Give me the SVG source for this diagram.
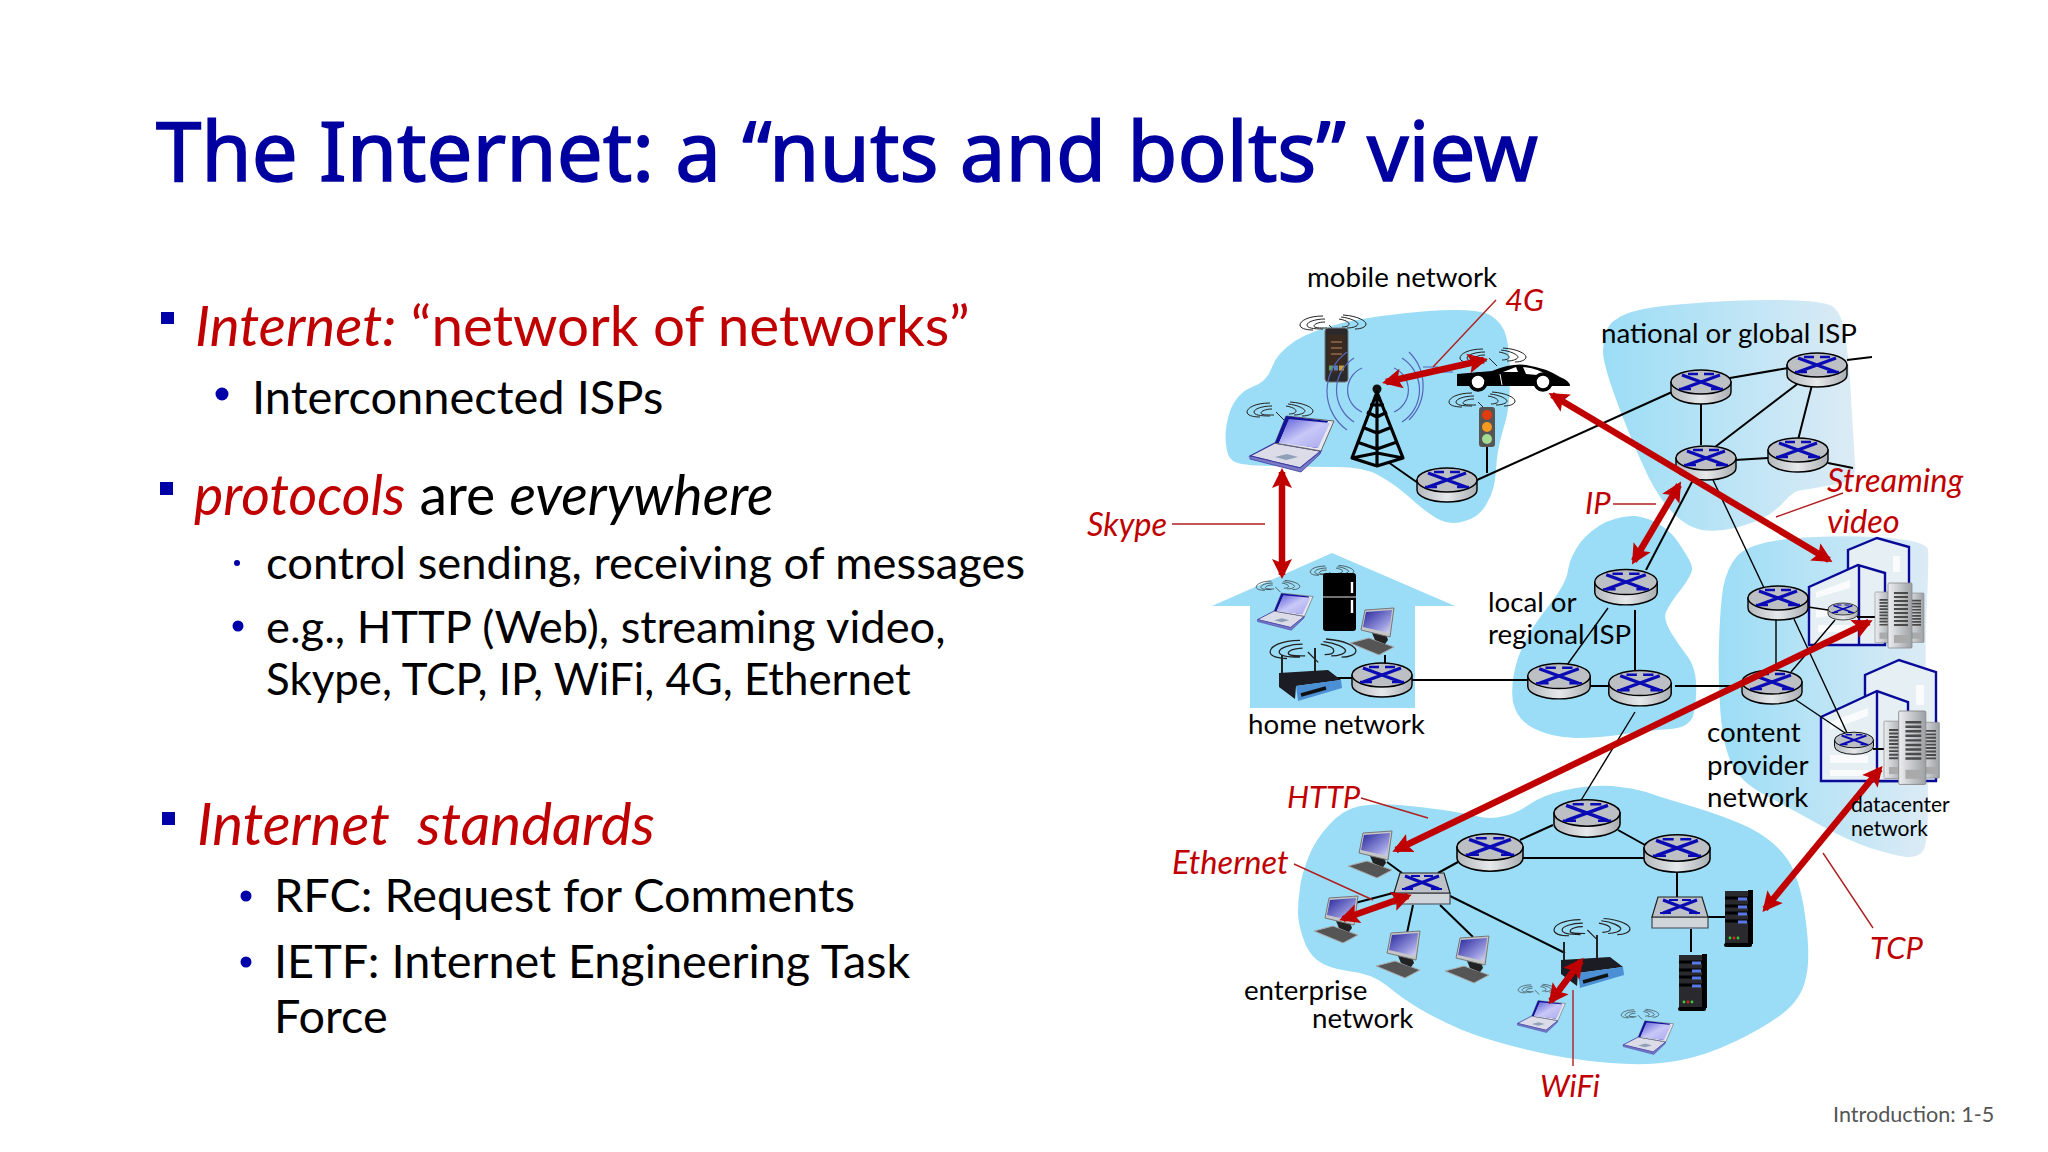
<svg xmlns="http://www.w3.org/2000/svg" width="2048" height="1152" viewBox="0 0 2048 1152">
<style>
text{font-family:"Lato","Carlito","Noto Sans",sans-serif;fill:#000}
.title{font-family:"Noto Sans","Open Sans",sans-serif;font-size:81.6px;fill:#0000a0;stroke:#0000a0;stroke-width:1.5}
.red{fill:#c00000}.it{font-style:italic}
.lab{font-size:27.7px}.pro{font-size:32.6px;fill:#c00000;font-style:italic}.pro2{font-size:31px;fill:#c00000;font-style:italic}
.blob{fill:#9bddf6}
.link{stroke:#000;stroke-width:2;fill:none}
.thin{stroke:#000;stroke-width:1.4;fill:none}
.lead{stroke:#b02020;stroke-width:1.4;fill:none}
.arw{stroke:#c00000;stroke-width:6.5;fill:none;marker-start:url(#head);marker-end:url(#head)}
.wv{fill:none;stroke:#222;stroke-width:1}
.dc{fill:#e6eff4;stroke:#0a0a99;stroke-width:2.4}
.win{fill:#fff;opacity:.75}
.bul{fill:#0000a8}
</style>
<defs>
<linearGradient id="fade" gradientUnits="objectBoundingBox" x1="0" x2="1" y1="0" y2="0"><stop offset="0" stop-color="#9bddf6"/><stop offset="1" stop-color="#dcebf5"/></linearGradient>
<linearGradient id="metal" x1="0" x2="1" y1="0" y2="0"><stop offset="0" stop-color="#b4b9bd"/><stop offset=".5" stop-color="#e6e9ea"/><stop offset="1" stop-color="#a9aeb2"/></linearGradient>
<linearGradient id="scr" x1="0" x2="1" y1="0" y2="1"><stop offset="0" stop-color="#25259c"/><stop offset=".7" stop-color="#9a9ae0"/><stop offset="1" stop-color="#dcdcf5"/></linearGradient>
<linearGradient id="lap" x1="0" x2="1" y1="0" y2="1"><stop offset="0" stop-color="#5a5ad8"/><stop offset=".5" stop-color="#c8c8f8"/><stop offset="1" stop-color="#a8a8ee"/></linearGradient>
<linearGradient id="tow" x1="0" x2="1" y1="0" y2="0"><stop offset="0" stop-color="#eceef0"/><stop offset="1" stop-color="#9ca0a4"/></linearGradient>
<marker id="head" markerUnits="userSpaceOnUse" viewBox="0 -11 24 22" markerWidth="24" markerHeight="22" refX="16" refY="0" orient="auto-start-reverse"><path d="M0,-10 L20,0 L0,10 L4,0 Z" fill="#c00000"/></marker>
<g id="router"><path d="M-30,0 V10 A30,12 0 0 0 30,10 V0 Z" fill="url(#metal)" stroke="#000" stroke-width="1.4"/><ellipse cx="0" cy="0" rx="30" ry="12" fill="#bcc0c4" stroke="#000" stroke-width="1.4"/><path d="M-19,-7 L19,7 M19,-7 L-19,7" stroke="#0b0bb5" stroke-width="3.2" fill="none"/><path d="M-13,-8 H-3 M3,-8 H13 M-22,7 H-10 M10,7 H22" stroke="#0b0bb5" stroke-width="2.4" fill="none"/></g>
<g id="switch"><path d="M-28,20 H28 V31 H-28 Z" fill="#cfd5d9" stroke="#445" stroke-width="1.2"/><path d="M-22,0 H22 L28,20 H-28 Z" fill="#bcc2c8" stroke="#222" stroke-width="1.2"/><path d="M-17,3 L17,16 M17,3 L-17,16" stroke="#0b0bb5" stroke-width="3" fill="none"/><path d="M-11,3 H-2 M2,3 H11 M-20,16 H-9 M9,16 H20" stroke="#0b0bb5" stroke-width="2.2" fill="none"/></g>
<g id="waves" class="wv"><path d="M-10,-9 C-25,-9 -33,-4 -33,0 C-33,3 -28,5 -20,5 M-8,-6 C-18,-6 -26,-3 -26,0 C-26,3 -20,4 -10,4 M-8,-3 C-14,-3 -19,-1 -19,1 C-19,3 -14,3 -6,3"/><path d="M10,-10 C25,-9 33,-4 33,-1 C33,2 28,4 22,4 M8,-8 C18,-7 25,-3 25,-1 C25,1 20,3 14,3 M6,-6 C12,-5 16,-3 16,-1 C16,1 13,2 9,2"/><path d="M-4,0 L4,8"/></g>
<g id="laptop"><path d="M-43,13 L-18,0 L28,8 L7,25 Z" fill="#dcdce8" stroke="#3a3aa0" stroke-width="1.3"/><path d="M-43,13 L7,25 L28,8 L27,11 L8,29 L-43,16 Z" fill="#7a7ac8" stroke="#3a3aa0" stroke-width=".8"/><path d="M-18,0 L-7,-27 L41,-22 L28,8 Z" fill="#e8e8f0" stroke="#666" stroke-width="1"/><path d="M-18,0 L-7,-27 L35,-22 L24,5 L-11,-1 L-1,-23 L-4,-23 L-14,0 Z" fill="#14149a"/><path d="M-14,0 L-4,-24 L37,-20 L25,5 Z" fill="url(#lap)"/><path d="M-18,14 L-6,11 L5,14 L-7,17 Z" fill="#8fa0b8"/></g>
<g id="desktop"><path d="M-22,13 L-3,8 L22,17 L7,25 Z" fill="#555" stroke="#aaa" stroke-width="1"/><path d="M0,3 L3,10 L13,14 L16,10 L14,4 Z" fill="#222"/><path d="M-7,-20 L22,-22 L18,7 L-11,0 Z" fill="#c4c6c8" stroke="#777" stroke-width="1"/><path d="M-6,-18 L20,-20 L17,3 L-9,-3 Z" fill="url(#scr)"/></g>
<g id="wifirouter"><path d="M-28,-25 V-3 M5,-32 V-6" stroke="#222" stroke-width="2" fill="none"/><path d="M-31,-7 L18,-10 L31,0 L-14,6 L-15,19 L-31,7 Z" fill="#1c1c24"/><path d="M-14,6 L31,0 L32,8 L-12,21 Z" fill="#4b8fd4"/><path d="M-9,15 L16,8" stroke="#111" stroke-width="3.5"/></g>
<g id="server"><rect x="0" y="0" width="27" height="55" fill="#2a2a2e"/><rect x="-1" y="52" width="28" height="4" rx="2" fill="#000"/><rect x="23" y="-1" width="5" height="54" fill="#000"/><path d="M0,7 H24 M0,15 H24 M0,22 H24 M0,30 H24" stroke="#000" stroke-width="3"/><path d="M13,8 H22 M13,16 H22 M13,23 H22 M13,31 H22" stroke="#5a78e8" stroke-width="3"/><circle cx="5" cy="47" r="1.4" fill="#3c3"/><circle cx="9" cy="47" r="1.4" fill="#d22"/><circle cx="13" cy="47" r="1.4" fill="#3c3"/></g>
<g id="tower1"><rect width="24" height="65" rx="1" fill="url(#tow)" stroke="#888" stroke-width=".8"/><path d="M6,10 H20 M6,14 H20 M6,18 H20 M6,22 H20 M6,26 H20 M6,30 H20 M6,34 H20 M6,38 H20 M6,42 H20" stroke="#4a4a4a" stroke-width="2.2"/><rect x="6" y="52" width="14" height="8" fill="#aaa"/></g>
<g id="cluster"><use href="#tower1" transform="translate(0,9) scale(.75,.78)"/><use href="#tower1" transform="translate(31,10) scale(.75,.76)"/><use href="#tower1" transform="translate(13,0)"/></g>
</defs>

<rect width="2048" height="1152" fill="#fff"/>

<g id="clouds">
<path class="blob" d="M1226,444 Q1224,430 1230,411 Q1237,393 1252,387 Q1267,382 1272,367 Q1277,353 1295,341 Q1313,330 1346,322 Q1380,315 1428,311 Q1477,308 1490,315 Q1503,323 1506,336 Q1510,350 1510,380 Q1510,410 1503,430 Q1497,450 1496,470 Q1495,490 1487,503 Q1480,517 1465,521 Q1450,526 1436,518 Q1423,510 1408,496 Q1393,483 1378,475 Q1363,467 1338,467 Q1313,467 1276,466 Q1240,466 1233,461 Q1227,457 1226,444 Z"/>
<path fill="url(#fade)" d="M1603,352 Q1603,343 1606,332 Q1610,320 1626,314 Q1643,307 1685,304 Q1727,300 1774,300 Q1820,300 1832,306 Q1843,313 1846,341 Q1850,370 1852,415 Q1855,460 1855,470 Q1855,480 1838,484 Q1820,487 1810,489 Q1800,490 1795,492 Q1790,495 1782,504 Q1773,513 1763,518 Q1753,523 1735,528 Q1717,532 1702,530 Q1687,527 1674,514 Q1660,500 1648,476 Q1637,453 1627,428 Q1617,403 1610,382 Q1603,360 1603,352 Z"/>
<path class="blob" d="M1636,516 Q1623,515 1606,522 Q1590,530 1580,543 Q1570,557 1568,570 Q1567,583 1547,608 Q1527,633 1518,658 Q1510,683 1513,702 Q1517,720 1533,728 Q1550,737 1575,738 Q1600,738 1625,734 Q1650,730 1671,729 Q1692,727 1694,712 Q1697,697 1696,682 Q1695,667 1688,657 Q1680,647 1672,634 Q1663,620 1666,612 Q1670,603 1682,588 Q1693,573 1692,568 Q1692,563 1682,548 Q1673,533 1662,526 Q1650,518 1636,516 Z"/>
<path fill="url(#fade)" d="M1723,588 Q1727,567 1738,555 Q1750,543 1788,539 Q1827,535 1877,537 Q1927,540 1928,550 Q1929,560 1927,600 Q1925,640 1926,700 Q1928,760 1928,800 Q1928,840 1924,849 Q1920,858 1906,857 Q1893,855 1870,848 Q1847,840 1820,825 Q1793,810 1765,795 Q1737,780 1730,760 Q1722,740 1720,706 Q1718,673 1719,642 Q1720,610 1723,588 Z"/>
<path class="blob" d="M1298,912 Q1298,900 1300,888 Q1301,877 1308,858 Q1315,840 1329,825 Q1343,809 1360,806 Q1377,803 1400,805 Q1423,807 1443,810 Q1463,813 1476,816 Q1490,820 1504,816 Q1517,813 1530,804 Q1543,795 1566,790 Q1590,785 1612,786 Q1633,788 1646,792 Q1660,797 1694,807 Q1727,817 1750,828 Q1773,840 1785,856 Q1799,873 1805,915 Q1811,957 1806,977 Q1802,999 1782,1014 Q1762,1029 1734,1042 Q1705,1056 1676,1061 Q1650,1066 1610,1063 Q1570,1060 1528,1050 Q1487,1040 1462,1030 Q1437,1019 1420,1009 Q1403,999 1386,985 Q1370,973 1348,971 Q1327,968 1317,960 Q1308,953 1303,938 Q1298,923 1298,912 Z"/>
<path class="blob" d="M1212,606 L1332,553 L1455,606 H1415 V708 H1250 V606 Z"/>
</g>

<g id="dc-buildings">
<path class="dc" d="M1848,570 V550 L1877,538 L1909,547 V600 H1848 Z"/>
<path class="dc" d="M1809,645 V587 L1858,565 L1885,573 V645 Z"/>
<path class="dc" fill="none" d="M1859,566 V645"/>
<path class="win" d="M1816,592 L1850,580 V588 L1816,598 Z M1818,625 H1850 V632 H1818 Z M1816,610 L1850,604 V612 L1816,618 Z M1893,556 H1900 V572 H1893 Z"/>
<path class="dc" d="M1865,693 V675 L1899,660 L1936,672 V781 H1865 Z"/>
<path class="dc" d="M1821,781 V717 L1877,691 L1908,702 V781 Z"/>
<path class="dc" fill="none" d="M1877,692 V781"/>
<path class="win" d="M1830,722 L1868,708 V716 L1830,730 Z M1830,755 H1868 V763 H1830 Z M1830,770 H1868 V776 H1830 Z M1916,685 H1924 V705 H1916 Z"/>
</g>

<g id="connectors">
<path class="link" d="M1477,480 L1672,392 M1730,378 L1788,368 M1701,400 V445 M1800,382 L1715,447 M1812,385 L1798,440 M1735,460 L1768,458 M1847,360 L1872,357 M1828,463 L1853,468"/>
<path class="link" d="M1388,462 L1418,483 M1487,447 V473"/>
<path class="link" d="M1693,480 L1646,570"/>
<path class="thin" d="M1713,480 L1765,590"/>
<path class="link" d="M1337,678 H1352 M1385,655 V666 M1412,680 H1528 M1590,686 H1613 M1635,610 V672 M1675,686 H1743"/>
<path class="thin" d="M1567,665 L1608,608 M1776,620 V673 M1791,672 L1835,620 M1808,607 L1828,610 M1794,619 L1848,735 M1796,700 L1848,735"/>
<path class="link" d="M1857,617 H1877 M1873,749 H1884"/>
<path class="link" d="M1387,862 L1402,873 M1355,903 L1397,892 M1413,905 L1407,933 M1440,905 L1473,937 M1448,895 L1565,953 M1438,873 L1458,862 M1520,840 L1553,825 M1523,858 H1647 M1618,830 L1645,845 M1677,873 V897 M1707,917 H1725 M1691,929 V952"/>
<path class="thin" d="M1580,802 L1635,712"/>
</g>

<g id="mobile-devices">
<g id="phone"><use href="#waves" transform="translate(1333,325)"/><rect x="1325" y="328" width="23" height="54" rx="3" fill="#2a2a2c" stroke="#777" stroke-width="1"/><rect x="1328" y="335" width="17" height="38" fill="#3a2a20"/><path d="M1331,342 H1342 M1331,348 H1342 M1331,354 H1342" stroke="#7a5a40" stroke-width="2"/><path d="M1329,368 H1333" stroke="#5aa06a" stroke-width="5"/><path d="M1334,368 H1338" stroke="#5a80c0" stroke-width="5"/><path d="M1339,368 H1344" stroke="#c0a040" stroke-width="5"/></g>
<g id="tower"><path d="M1362,368 A24,24 0 0 0 1362,412 M1354,358 A38,38 0 0 0 1354,422 M1347,352 A48,48 0 0 0 1347,430 M1394,368 A24,24 0 0 1 1394,412 M1402,358 A38,38 0 0 1 1402,422 M1409,352 A48,48 0 0 1 1409,420" stroke="#5566bb" stroke-width="1.2" fill="none"/><path d="M1423,367 H1438 M1440,372 H1453" stroke="#5566bb" stroke-width="1.2"/><circle cx="1377" cy="389" r="4.5" fill="#111"/><path d="M1377,392 L1352,458 L1377,466 L1403,458 Z M1377,392 V466 M1352,458 L1377,453 L1403,458 M1357,442 L1377,449 L1397,442 M1362,427 L1377,433 L1392,427 M1367,412 L1377,417 L1387,412 M1370,405 H1384" stroke="#000" stroke-width="3.2" fill="none" stroke-linejoin="round"/></g>
<g id="laptop-mobile"><use href="#waves" transform="translate(1280,412)"/><use href="#laptop" transform="translate(1293,443)"/></g>
<g id="car"><use href="#waves" transform="translate(1493,358)"/><path d="M1457,374 L1492,371 Q1512,363 1526,365 Q1546,368 1560,377 Q1570,381 1570,386 L1457,386 Z" fill="#000"/><path d="M1503,372 L1516,367 L1518,372 Z M1523,367 Q1540,369 1548,376 L1526,374 Z" fill="#fff"/><path d="M1500,374 L1502,385" stroke="#fff" stroke-width="1"/><circle cx="1478" cy="382" r="8" fill="#fff" stroke="#000" stroke-width="3.5"/><circle cx="1543" cy="382" r="8" fill="#fff" stroke="#000" stroke-width="3.5"/></g>
<g id="traffic-light"><use href="#waves" transform="translate(1482,402)"/><rect x="1479" y="407" width="16" height="40" rx="3" fill="#555"/><circle cx="1487" cy="415" r="5" fill="#e03c10"/><circle cx="1487" cy="427" r="5" fill="#f59a20"/><circle cx="1487" cy="439" r="5" fill="#a4dc94"/></g>
</g>

<g id="home-devices">
<g id="laptop-home"><use href="#waves" transform="translate(1278,587) scale(.66)"/><use href="#laptop" transform="translate(1286,611) scale(.66)"/></g>
<g id="fridge"><use href="#waves" transform="translate(1332,572) scale(.66)"/><rect x="1323" y="573" width="33" height="58" rx="3" fill="#000"/><path d="M1323,597 H1356" stroke="#999" stroke-width="1.5"/><path d="M1352,582 V593 M1352,600 V613" stroke="#fff" stroke-width="2.4"/></g>
<g id="desktop-home"><use href="#desktop" transform="translate(1372,630)"/></g>
<g id="wifi-home"><use href="#waves" transform="translate(1313,652) scale(1.3)"/><use href="#wifirouter" transform="translate(1310,680)"/></g>
</g>

<g id="enterprise-devices">
<g id="pc1"><use href="#desktop" transform="translate(1370,853)"/></g>
<g id="pc2"><use href="#desktop" transform="translate(1336,918)"/></g>
<g id="pc3"><use href="#desktop" transform="translate(1398,953)"/></g>
<g id="pc4"><use href="#desktop" transform="translate(1467,958)"/></g>
<g id="wifi-ent"><use href="#waves" transform="translate(1592,930) scale(1.15)"/><use href="#wifirouter" transform="translate(1592,967)"/></g>
<g id="laptop-ent1"><use href="#waves" transform="translate(1537,990) scale(.57)"/><use href="#laptop" transform="translate(1542,1016) scale(.57)"/></g>
<g id="laptop-ent2"><use href="#waves" transform="translate(1640,1015) scale(.57)"/><use href="#laptop" transform="translate(1649,1037) scale(.6)"/></g>
<g id="server1"><use href="#server" transform="translate(1725,891)"/></g>
<g id="server2"><use href="#server" transform="translate(1679,955)"/></g>
<g id="switch1"><use href="#switch" transform="translate(1422,873)"/></g>
<g id="switch2"><use href="#switch" transform="translate(1680,897)"/></g>
</g>

<g id="routers">
<g id="r-mobile"><use href="#router" transform="translate(1447,480)"/></g>
<g id="r-nat1"><use href="#router" transform="translate(1701,382)"/></g>
<g id="r-nat2"><use href="#router" transform="translate(1817,365)"/></g>
<g id="r-nat3"><use href="#router" transform="translate(1706,458)"/></g>
<g id="r-nat4"><use href="#router" transform="translate(1798,450)"/></g>
<g id="r-local1"><use href="#router" transform="translate(1626,582) scale(1.04)"/></g>
<g id="r-local2"><use href="#router" transform="translate(1559,676) scale(1.04)"/></g>
<g id="r-local3"><use href="#router" transform="translate(1640,683) scale(1.04)"/></g>
<g id="r-home"><use href="#router" transform="translate(1382,675)"/></g>
<g id="r-cdn1"><use href="#router" transform="translate(1778,598)"/></g>
<g id="r-cdn2"><use href="#router" transform="translate(1772,682)"/></g>
<g id="r-dc1"><use href="#router" transform="translate(1843,609) scale(.5)"/></g>
<g id="r-dc2"><use href="#router" transform="translate(1854,740) scale(.65)"/></g>
<g id="r-ent1"><use href="#router" transform="translate(1490,847) scale(1.1)"/></g>
<g id="r-ent2"><use href="#router" transform="translate(1587,813) scale(1.1)"/></g>
<g id="r-ent3"><use href="#router" transform="translate(1677,848) scale(1.1)"/></g>
<g id="cluster1"><use href="#cluster" transform="translate(1875,583)"/></g>
<g id="cluster2"><use href="#cluster" transform="translate(1884,711) scale(1.13)"/></g>
</g>

<g id="leaders">
<path class="lead" d="M1496,300 L1433,367 M1172,524 H1265 M1613,504 H1656 M1776,517 L1843,493 M1361,798 L1428,818 M1294,864 L1373,900 M1573,990 V1066 M1823,853 L1873,928"/>
</g>

<g id="arrows">
<path class="arw" d="M1282,472 V575"/>
<path class="arw" d="M1386,382 L1484,360"/>
<path class="arw" d="M1552,395 L1829,560"/>
<path class="arw" d="M1679,485 L1634,561"/>
<path class="arw" d="M1869,622 L1396,850"/>
<path class="arw" d="M1408,896 L1343,919"/>
<path class="arw" d="M1581,961 L1551,1001"/>
<path class="arw" d="M1880,769 L1765,909"/>
</g>

<g id="labels">
<text class="lab" x="1307" y="287">mobile network</text>
<text class="pro2" x="1505" y="311">4G</text>
<text class="lab" x="1601" y="343">national or global ISP</text>
<text class="pro" x="1087" y="536">Skype</text>
<text class="pro2" x="1585" y="514">IP</text>
<text class="pro" x="1827" y="492">Streaming</text>
<text class="pro" x="1827" y="533">video</text>
<text class="lab" x="1488" y="612">local or</text>
<text class="lab" x="1488" y="644">regional ISP</text>
<text class="lab" x="1248" y="734">home network</text>
<text class="pro2" x="1287" y="808">HTTP</text>
<text class="pro" x="1172" y="874">Ethernet</text>
<text class="lab" x="1707" y="742">content</text>
<text class="lab" x="1707" y="775">provider</text>
<text class="lab" x="1707" y="807">network</text>
<text x="1851" y="812" font-size="21">datacenter</text>
<text x="1851" y="836" font-size="21">network</text>
<text class="lab" x="1244" y="1000">enterprise</text>
<text class="lab" x="1312" y="1028">network</text>
<text class="pro2" x="1540" y="1097">WiFi</text>
<text class="pro2" x="1870" y="959">TCP</text>
<text x="1833" y="1122" font-size="21.6" style="fill:#555">Introduction: 1-5</text>
</g>

<g id="slide-text">
<text class="title" x="156" y="181">The Internet: a “nuts and bolts” view</text>
<rect class="bul" x="161" y="312" width="13" height="12"/>
<text class="red" font-size="56.6" x="195" y="346"><tspan class="it red">Internet:</tspan> “network of networks”</text>
<circle class="bul" cx="222" cy="394" r="6.5"/>
<text font-size="47" x="252" y="414">Interconnected ISPs</text>
<rect class="bul" x="160" y="482" width="13" height="13"/>
<text font-size="55.4" x="194" y="515"><tspan class="it red">protocols</tspan> are <tspan class="it">everywhere</tspan></text>
<circle class="bul" cx="237" cy="563" r="3"/>
<text font-size="45.3" x="266" y="579">control sending, receiving of messages</text>
<circle class="bul" cx="238" cy="626" r="5.5"/>
<text font-size="45.3" x="266" y="643">e.g., HTTP (Web), streaming video,</text>
<text font-size="43.8" x="266" y="695">Skype, TCP, IP, WiFi, 4G, Ethernet</text>
<rect class="bul" x="162" y="812" width="13" height="13"/>
<text class="red it" font-size="58.3" x="197" y="845" xml:space="preserve">Internet  standards</text>
<circle class="bul" cx="246" cy="896" r="5.5"/>
<text font-size="46.8" x="274" y="912">RFC: Request for Comments</text>
<circle class="bul" cx="246" cy="962" r="5.5"/>
<text font-size="46.8" x="274" y="978">IETF: Internet Engineering Task</text>
<text font-size="46.8" x="274" y="1033">Force</text>
</g>
</svg>
